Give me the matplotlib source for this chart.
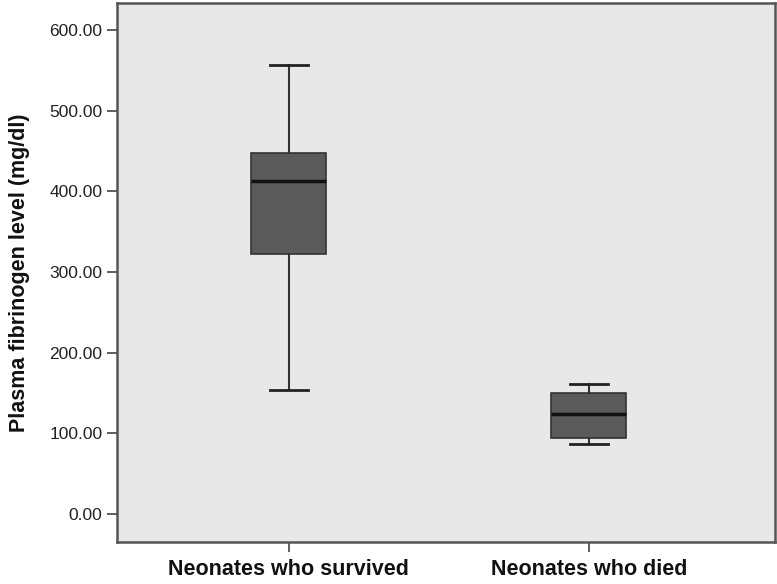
import matplotlib
matplotlib.use("Agg")
import matplotlib.pyplot as plt

categories = ["Neonates who survived", "Neonates who died"]
whisker_low = [154, 87]
q1 = [322, 94]
median = [413, 124]
q3 = [448, 150]
whisker_high = [557, 161]
yticks = [0, 100, 200, 300, 400, 500, 600]

plt.rcParams['font.family'] = ['Liberation Sans', 'DejaVu Sans']

fig = plt.figure(figsize=(7.77, 5.84), dpi=100)
ax = fig.add_axes([0.1506, 0.0719, 0.8468, 0.9223])
ax.set_facecolor('#e8e8e8')

stats = []
for i, c in enumerate(categories):
    stats.append(dict(label=c, whislo=whisker_low[i], q1=q1[i], med=median[i],
                      q3=q3[i], whishi=whisker_high[i], fliers=[]))

ax.bxp(stats, positions=[1, 2], widths=0.25, patch_artist=True, showfliers=False,
       boxprops=dict(facecolor='#5a5a5a', edgecolor='#333333', linewidth=1.2),
       medianprops=dict(color='#111111', linewidth=2.5),
       whiskerprops=dict(color='#333333', linewidth=1.5),
       capprops=dict(color='#222222', linewidth=2),
       capwidths=0.126)

ax.set_xlim(0.427, 2.62)
ax.set_ylim(-34.7, 633)
ax.set_yticks(yticks)
ax.set_yticklabels([f"{v:.2f}" for v in yticks], fontsize=12.5, color='#222222')
ax.set_xticks([1, 2])
ax.set_xticklabels(categories, fontsize=15.5, fontweight='bold', color='#111111')
ax.tick_params(axis='y', length=7.5, width=1.2, color='#444444', pad=3)
ax.tick_params(axis='x', length=7, width=1.2, color='#444444', pad=5)
ax.set_ylabel("Plasma fibrinogen level (mg/dl)", fontsize=15.5, fontweight='bold',
              color='#111111', labelpad=14)
for s in ax.spines.values():
    s.set_color('#555555')
    s.set_linewidth(1.8)

fig.savefig("out.png", dpi=100)
